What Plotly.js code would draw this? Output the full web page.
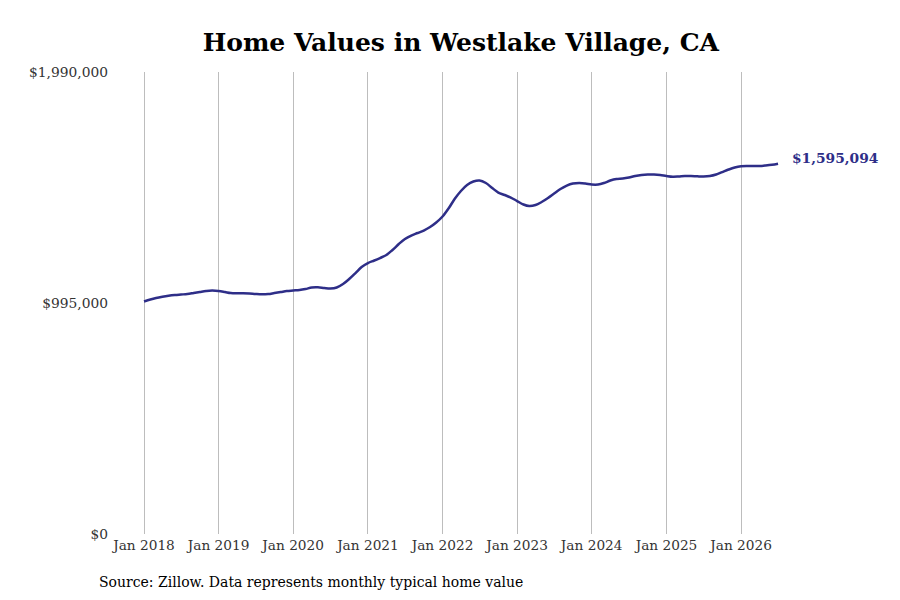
<!DOCTYPE html>
<html>
<head>
<meta charset="utf-8">
<script src="https://cdn.plot.ly/plotly-3.0.1.min.js"></script>
<style>body{margin:0;background:#fff}#graph{width:900px;height:600px}</style>
</head>
<body>
<div id="graph"></div>
<script>
// monthly typical home value, Jan 2018 .. Jul 2026
var values = [
  1001400, 1010100, 1016600, 1021900, 1026200, 1029400, 1031500, 1033700, 1038000, 1042300, 1046600, 1048800,
  1046600, 1042300, 1038000, 1036700, 1036700, 1035800, 1033700, 1032400, 1033700, 1038000, 1042300, 1046600,
  1048800, 1050900, 1055200, 1061700, 1062500, 1059500, 1057400, 1061700, 1076800, 1098300, 1124100, 1150000,
  1167200, 1178000, 1188700, 1201700, 1223200, 1249000, 1270600, 1285600, 1296400, 1307200, 1322200, 1341600,
  1367500, 1404100, 1442800, 1477300, 1503100, 1518200, 1522500, 1511800, 1490200, 1470800, 1460100, 1449300,
  1434200, 1419200, 1412700, 1417000, 1429900, 1447200, 1466500, 1485900, 1501000, 1509600, 1511800, 1509600,
  1505300, 1505300, 1511800, 1522500, 1529000, 1531100, 1535400, 1541900, 1546200, 1548400, 1548400, 1546200,
  1541900, 1538900, 1539800, 1541900, 1541900, 1540600, 1539800, 1541900, 1548400, 1559100, 1569900, 1578500,
  1583700, 1585000, 1585000, 1585000, 1587100, 1590200, 1595094
];
var yTicks = [0, 995000, 1990000];
var yTickLabels = ['$0', '$995,000', '$1,990,000'];
var xTicks = ['2018-01-01','2019-01-01','2020-01-01','2021-01-01','2022-01-01','2023-01-01','2024-01-01','2025-01-01','2026-01-01'];
var lastLabel = '$1,595,094';

var dates = [];
for (let i = 0; i < values.length; i++) {
  let y = 2018 + Math.floor(i / 12);
  let m = (i % 12) + 1;
  dates.push(y + '-' + (m < 10 ? '0' + m : m) + '-01');
}

var lineColor = '#2e2e88';

var trace = {
  x: dates,
  y: values,
  type: 'scatter',
  mode: 'lines',
  line: {color: lineColor, width: 2.5, shape: 'spline', smoothing: 1},
  hoverinfo: 'skip'
};

var layout = {
  width: 900,
  height: 600,
  paper_bgcolor: '#fff',
  plot_bgcolor: '#fff',
  margin: {l: 115, r: 115, t: 72, b: 66},
  font: {family: 'DejaVu Serif, serif', color: '#333', size: 14},
  title: {
    text: '<b>Home Values in Westlake Village, CA</b>',
    font: {family: 'DejaVu Serif, serif', size: 25, color: '#000'},
    x: 0.512, xanchor: 'center', y: 0.93, yanchor: 'middle'
  },
  showlegend: false,
  xaxis: {
    type: 'date',
    range: ['2017-08-12', '2026-08-04'],
    tickvals: xTicks,
    tickformat: '%b %Y',
    showgrid: true,
    gridcolor: '#bdbdbd',
    gridwidth: 1,
    zeroline: false,
    showline: false,
    ticks: '',
    ticklabelstandoff: 1,
    tickfont: {size: 13.7, color: '#333'}
  },
  yaxis: {
    range: [0, 1990000],
    tickvals: yTicks,
    ticktext: yTickLabels,
    showgrid: false,
    zeroline: false,
    showline: false,
    ticks: '',
    ticklabelstandoff: 6,
    tickfont: {size: 13.8, color: '#333'}
  },
  annotations: [
    {
      x: dates[dates.length - 1],
      y: values[values.length - 1],
      xref: 'x', yref: 'y',
      text: '<b>' + lastLabel + '</b>',
      showarrow: false,
      xanchor: 'left',
      xshift: 12,
      yshift: 6,
      font: {family: 'DejaVu Serif, serif', size: 13.8, color: lineColor}
    },
    {
      x: 0, y: 0, xref: 'paper', yref: 'paper',
      text: 'Source: Zillow. Data represents monthly typical home value',
      showarrow: false,
      xanchor: 'left', yanchor: 'middle',
      xshift: -18, yshift: -48,
      font: {family: 'DejaVu Serif, serif', size: 14, color: '#000'}
    }
  ]
};

Plotly.newPlot('graph', [trace], layout, {displayModeBar: false, staticPlot: true});
</script>
</body>
</html>
